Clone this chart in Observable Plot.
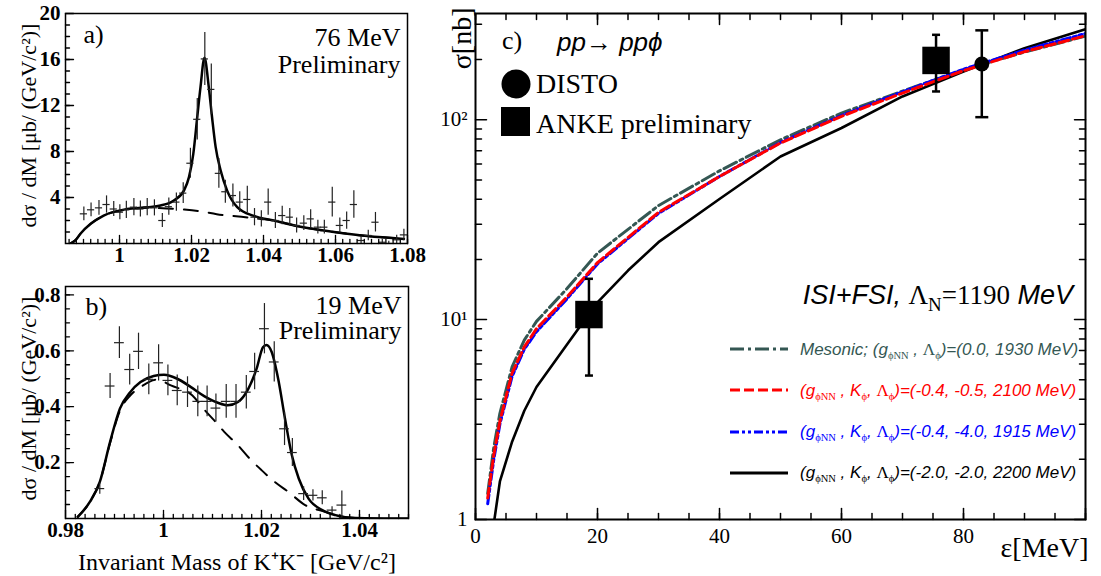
<!DOCTYPE html>
<html><head><meta charset="utf-8">
<script src="https://cdn.jsdelivr.net/npm/d3@7"></script>
<script src="https://cdn.jsdelivr.net/npm/@observablehq/plot@0.6"></script>
<style>
html,body{margin:0;padding:0;background:#fff;}
#root{position:relative;width:1101px;height:576px;overflow:hidden;background:#fff;}
#root > svg{position:absolute;overflow:visible;}
.t{position:absolute;white-space:nowrap;line-height:1;color:#000;}
.serif{font-family:"Liberation Serif",serif;font-style:normal;}
.isans{font-family:"Liberation Sans",sans-serif;font-style:italic;}
.up{font-family:"Liberation Serif",serif;font-style:normal;}
sub{font-family:"Liberation Serif",serif;font-style:normal;font-size:62%;vertical-align:-0.35em;line-height:0;}
</style></head><body><div id="root"></div>
<script>
// ===================== DATA =====================
// Panel a) 76 MeV : K+K- invariant mass spectrum
const aMass = [0.9901,0.9921,0.9943,0.9964,0.9984,1.0001,1.0019,1.004,1.0058,1.0077,1.0097,1.0119,1.0137,1.0158,1.0177,1.0197,1.0216,1.0237,1.0255,1.0276,1.0294,1.0315,1.0334,1.0355,1.0375,1.0394,1.0413,1.0433,1.0452,1.0473,1.0492,1.0512,1.0531,1.0551,1.0569,1.0591,1.0612,1.0631,1.0651,1.0671,1.0691,1.0711,1.073,1.0748,1.077,1.079];
const aVal  = [2.58,2.93,3.1,3.39,3.0,2.72,2.93,3.16,3.0,3.16,3.1,2.0,3.2,3.6,4.38,6.98,10.8,16.05,13.4,6.1,4.5,4.17,3.6,3.83,2.29,2.14,3.6,2.0,2.43,2.29,1.57,1.77,2.14,1.42,1.42,3.6,1.57,2.0,3.39,0.26,0.70,1.85,0.11,0.0,0.32,0.75];
const aErr  = [0.6,0.6,0.65,0.75,0.65,0.65,0.75,0.75,0.7,0.75,0.7,0.6,0.75,0.8,0.9,1.3,1.8,2.3,2.2,1.3,1.0,1.0,0.9,1.15,0.75,0.7,1.15,0.7,0.8,0.75,0.65,0.65,0.8,0.6,0.6,1.3,0.65,0.75,1.2,0.35,0.45,0.85,0.25,0.2,0.4,0.5];
const aFitMass = [0.9864,0.9878,0.9892,0.992,0.9956,1.0021,1.0077,1.0114,1.0151,1.0179,1.0193,1.0205,1.0216,1.0225,1.0236,1.0248,1.0257,1.0267,1.0281,1.0299,1.0327,1.0373,1.0429,1.0503,1.0596,1.0688,1.079];
const aFitVal  = [0,0.3,0.87,1.71,2.43,3.0,3.15,3.3,3.74,4.6,5.77,7.8,11.0,13.6,16.15,13.6,11.0,8.4,6.35,4.6,3.16,2.4,2.0,1.45,1.0,0.65,0.4];
const aBgMass = [0.9864,0.9878,0.9892,0.992,0.9956,1.0021,1.0077,1.013,1.018,1.0225,1.027,1.0331,1.0392,1.0429,1.0503,1.0596,1.0688,1.079];
const aBgVal  = [0,0.3,0.87,1.71,2.43,2.95,3.1,3.05,2.95,2.8,2.55,2.35,2.14,2.0,1.45,1.0,0.65,0.4];

// Panel b) 19 MeV
const bMass = [0.987,0.9891,0.991,0.9931,0.9949,0.997,0.999,1.0009,1.0028,1.0049,1.007,1.0089,1.0107,1.0128,1.0148,1.0169,1.0186,1.0206,1.0226,1.0247,1.0263,1.0286,1.0305,1.0324,1.0344,1.0364];
const bVal  = [0.107,0.474,0.629,0.533,0.598,0.498,0.557,0.494,0.458,0.452,0.419,0.419,0.395,0.419,0.419,0.452,0.526,0.679,0.56,0.321,0.236,0.089,0.083,0.074,0.03,0.048];
const bErr  = [0.02,0.045,0.057,0.055,0.065,0.055,0.065,0.055,0.055,0.055,0.055,0.055,0.05,0.06,0.06,0.06,0.065,0.09,0.072,0.06,0.05,0.025,0.02,0.025,0.012,0.05];
const bFitMass = [0.9825,0.985,0.987,0.9891,0.9911,0.9932,0.9953,0.998,1.0001,1.0028,1.0056,1.0083,1.0111,1.0131,1.0152,1.0173,1.019,1.0203,1.021,1.0221,1.0234,1.0248,1.0262,1.0276,1.0296,1.0324,1.0351,1.0392,1.05];
const bFitVal  = [0.006,0.06,0.131,0.274,0.393,0.452,0.488,0.51,0.514,0.5,0.47,0.438,0.414,0.405,0.417,0.464,0.536,0.613,0.621,0.595,0.5,0.357,0.226,0.143,0.071,0.03,0.012,0.002,0];
const bBgMass = [0.9825,0.985,0.987,0.9891,0.9911,0.9932,0.9953,0.9987,1.0015,1.0059,1.0083,1.0104,1.0124,1.0152,1.0176,1.02,1.0227,1.0255,1.0289,1.033,1.036,1.04];
const bBgVal  = [0.006,0.06,0.131,0.27,0.385,0.44,0.47,0.497,0.476,0.44,0.39,0.35,0.31,0.262,0.214,0.173,0.131,0.095,0.048,0.024,0.008,0.001];

// Panel c) pp -> pp phi total cross section
const cEps      = [2,3,4,6,8,10,15,20,30,40,50,60,70,80,90,100];
const cMesonic  = [1.35,2.3,3.4,5.8,7.9,9.8,14.3,21.5,37.2,55.5,79.4,108,139,178,218,262];
const cRed      = [1.28,2.1,3.1,5.4,7.3,9.0,13.0,19.3,34.4,52,76.5,104,136,176,219,263];
const cBlue     = [1.2,2.0,3.0,5.2,7.1,8.7,12.7,19.0,34.0,52,77,105,138,179,223,270];
const cBlackEps = [3.1,4,6,8,10,15,20,25,30,40,50,60,70,80,90,100];
const cBlack    = [1.0,1.55,2.45,3.5,4.6,7.5,12.2,17.6,24.4,40.1,65.5,90.9,130.8,174,228,284];
const distoEps = [83];   const distoVal = [190];  const distoLo = [103];  const distoHi = [280];
const ankeEps  = [18.6, 75.5]; const ankeVal = [10.6, 198]; const ankeLo = [5.25, 138.5]; const ankeHi = [16.0, 266];

const seriesKeys   = ["mesonic","red","blue","black"];
const seriesColors = ["#345753","#ff0000","#0000ff","#000000"];
const seriesDash   = ["14,4,3,4","10,4","9,3,3,3,3,3","none"];
const seriesLabels = [
  'Mesonic; (g<sub>ϕNN</sub> , <span class="up">Λ</span><sub>ϕ</sub>)=(0.0, 1930 MeV)',
  '(g<sub>ϕNN</sub> , K<sub>ϕ</sub>, <span class="up">Λ</span><sub>ϕ</sub>)=(-0.4, -0.5, 2100 MeV)',
  '(g<sub>ϕNN</sub> , K<sub>ϕ</sub>, <span class="up">Λ</span><sub>ϕ</sub>)=(-0.4, -4.0, 1915 MeV)',
  '(g<sub>ϕNN</sub> , K<sub>ϕ</sub>, <span class="up">Λ</span><sub>ϕ</sub>)=(-2.0, -2.0, 2200 MeV)'
];

// tick values
const aMajorX = [1, 1.02, 1.04, 1.06, 1.08];
const aMajorY = [4, 8, 12, 16, 20];
const bMajorX = [0.98, 1, 1.02, 1.04];
const bMajorY = [0.2, 0.4, 0.6, 0.8];
const cMajorX = [0, 20, 40, 60, 80, 100];
const cLabelX = [0, 20, 40, 60, 80];
const cMajorY = [1, 10, 100];
const cMinorY = [2,3,4,5,6,7,8,9,20,30,40,50,60,70,80,90,200,300];

// ===================== BUILD =====================
const root = document.getElementById("root");
const fmt = d3.format("~g");
const SERIF = '"Liberation Serif", serif';
const baseStyle = {fontFamily: SERIF, fontSize: "21px", background: "transparent", color: "black", overflow: "visible"};
const hline = {draw(ctx, size) { const w = Math.sqrt(size / Math.PI); ctx.moveTo(-w, 0); ctx.lineTo(w, 0); }};
const tickShape = {draw(ctx, l) { ctx.moveTo(0, 0); ctx.lineTo(0, -l); }};

function rows(xs, ys, es) { return xs.map((x, i) => ({x, y: ys[i], e: es ? es[i] : 0})); }
function place(node, left, top) { node.style.left = left + "px"; node.style.top = top + "px"; root.appendChild(node); }

// inward tick marks along the frame edges (ROOT style)
function ticksX(ticks, L, anchor, sw) {
  return Plot.vector(ticks, {x: d => d, frameAnchor: anchor, length: L, rotate: anchor === "top" ? 180 : 0,
    anchor: "start", shape: tickShape, stroke: "black", strokeWidth: sw});
}
function ticksY(ticks, L, anchor, sw) {
  return Plot.vector(ticks, {y: d => d, frameAnchor: anchor, length: L, rotate: anchor === "right" ? -90 : 90,
    anchor: "start", shape: tickShape, stroke: "black", strokeWidth: sw});
}

function massAxes(majorX, minorX, majorY, minorY) {
  return [
    ticksX(minorX, 4, "bottom", 1.3),
    ticksX(majorX, 8, "bottom", 1.3),
    ticksY(minorY, 4, "left", 1.3),
    ticksY(majorY, 8, "left", 1.3),
    Plot.axisX({ticks: majorX, tickSize: 0, tickPadding: 4, tickFormat: fmt, fontWeight: "bold", fontSize: 21, label: null}),
    Plot.axisY({ticks: majorY, tickSize: 0, tickPadding: 5, tickFormat: fmt, fontWeight: "bold", fontSize: 21, label: null})
  ];
}
function massMarks(pts, fit, bg, halfBin) {
  return [
    Plot.line(bg, {x: "x", y: "y", strokeWidth: 2, strokeDasharray: "14,11", curve: "monotone-x", clip: true}),
    Plot.line(fit, {x: "x", y: "y", strokeWidth: 2.5, curve: "monotone-x", clip: true}),
    Plot.ruleX(pts, {x: "x", y1: d => d.y - d.e, y2: d => d.y + d.e, stroke: "#222", strokeWidth: 1.2, clip: true}),
    Plot.ruleY(pts, {y: "y", x1: d => d.x - halfBin, x2: d => d.x + halfBin, stroke: "#222", strokeWidth: 1.2, clip: true})
  ];
}
const yTitle = "dσ / dM [μb/ (GeV/c²)]";

// ---- Panel a ----
const plotA = Plot.plot({
  width: 420, height: 268, marginLeft: 65, marginRight: 13, marginTop: 13, marginBottom: 25,
  style: baseStyle,
  x: {domain: [0.985, 1.08]},
  y: {domain: [0, 20]},
  marks: [
    ...massMarks(rows(aMass, aVal, aErr), rows(aFitMass, aFitVal), rows(aBgMass, aBgVal), 0.001),
    ...massAxes(aMajorX, d3.range(493, 541).map(i => i * 0.002), aMajorY, d3.range(1, 20)),
    Plot.frame({strokeWidth: 1.5}),
    Plot.text(["a)"], {frameAnchor: "top-left", textAnchor: "start", lineAnchor: "top", dx: 18, dy: 11, fontSize: 26}),
    Plot.text(["76 MeV"], {frameAnchor: "top-right", textAnchor: "end", lineAnchor: "top", dx: -7, dy: 14, fontSize: 26}),
    Plot.text(["Preliminary"], {frameAnchor: "top-right", textAnchor: "end", lineAnchor: "top", dx: -7, dy: 41, fontSize: 26}),
    Plot.text([yTitle], {frameAnchor: "left", rotate: -90, textAnchor: "middle", dx: -37, dy: -3, fontSize: 22})
  ]
});
plotA.style.left = "0px"; plotA.style.top = "0px"; root.appendChild(plotA);

// ---- Panel b ----
const plotB = Plot.plot({
  width: 420, height: 308, marginLeft: 65, marginRight: 12, marginTop: 18, marginBottom: 58,
  style: baseStyle,
  x: {domain: [0.98, 1.05]},
  y: {domain: [0, 0.83]},
  marks: [
    ...massMarks(rows(bMass, bVal, bErr), rows(bFitMass, bFitVal), rows(bBgMass, bBgVal), 0.001),
    ...massAxes(bMajorX, d3.range(491, 526).map(i => i * 0.002), bMajorY, d3.range(1, 17).map(i => i * 0.05)),
    Plot.frame({strokeWidth: 1.5}),
    Plot.text(["b)"], {frameAnchor: "top-left", textAnchor: "start", lineAnchor: "top", dx: 20, dy: 10, fontSize: 26}),
    Plot.text(["19 MeV"], {frameAnchor: "top-right", textAnchor: "end", lineAnchor: "top", dx: -7, dy: 9, fontSize: 26}),
    Plot.text(["Preliminary"], {frameAnchor: "top-right", textAnchor: "end", lineAnchor: "top", dx: -7, dy: 34, fontSize: 26}),
    Plot.text([yTitle], {frameAnchor: "left", rotate: -90, textAnchor: "middle", dx: -37, dy: -4, fontSize: 22}),
    Plot.text(["Invariant Mass of K⁺K⁻ [GeV/c²]"], {frameAnchor: "bottom", lineAnchor: "top", dy: 34, fontSize: 24})
  ]
});
plotB.style.left = "0px"; plotB.style.top = "268px"; root.appendChild(plotB);

// ---- Panel c ----
const curveRows = [];
seriesKeys.forEach((k, s) => {
  const xs = k === "black" ? cBlackEps : cEps;
  const ys = {mesonic: cMesonic, red: cRed, blue: cBlue, black: cBlack}[k];
  xs.forEach((x, i) => curveRows.push({s: k, x, y: ys[i]}));
});
const disto = distoEps.map((x, i) => ({x, y: distoVal[i], lo: distoLo[i], hi: distoHi[i]}));
const anke = ankeEps.map((x, i) => ({x, y: ankeVal[i], lo: ankeLo[i], hi: ankeHi[i]}));
const supFmt = d => d === 1 ? "1" : d === 10 ? "10¹" : "10²";

const curveMarks = seriesKeys.map((k, s) =>
  Plot.line(curveRows.filter(d => d.s === k), {x: "x", y: "y", stroke: seriesColors[s],
    strokeWidth: k === "black" ? 2.6 : 3, strokeDasharray: seriesDash[s] === "none" ? null : seriesDash[s], clip: true}));
const orderedCurves = [curveMarks[3], curveMarks[0], curveMarks[2], curveMarks[1]];
const cMinorX = d3.range(0, 101, 5);

const plotC = Plot.plot({
  width: 681, height: 576, marginLeft: 55, marginRight: 16, marginTop: 13, marginBottom: 57,
  style: baseStyle,
  x: {domain: [0, 100]},
  y: {type: "log", domain: [1, 340]},
  marks: [
    ...orderedCurves,
    Plot.ruleX(anke, {x: "x", y1: "lo", y2: "hi", strokeWidth: 2.5}),
    Plot.dot(anke, {x: "x", y: "lo", symbol: hline, r: 4, stroke: "black", strokeWidth: 2.5}),
    Plot.dot(anke, {x: "x", y: "hi", symbol: hline, r: 4, stroke: "black", strokeWidth: 2.5}),
    Plot.dot(anke, {x: "x", y: "y", symbol: "square", r: 15.5, fill: "black", stroke: null}),
    Plot.ruleX(disto, {x: "x", y1: "lo", y2: "hi", strokeWidth: 2.5}),
    Plot.dot(disto, {x: "x", y: "lo", symbol: hline, r: 6.5, stroke: "black", strokeWidth: 2.5}),
    Plot.dot(disto, {x: "x", y: "hi", symbol: hline, r: 6.5, stroke: "black", strokeWidth: 2.5}),
    Plot.dot(disto, {x: "x", y: "y", r: 7.5, fill: "black", stroke: null}),
    ticksX(cMinorX, 6, "bottom", 1.5),
    ticksX(cMajorX, 11, "bottom", 1.5),
    ticksX(cMinorX, 6, "top", 1.5),
    ticksX(cMajorX, 11, "top", 1.5),
    ticksY(cMinorY, 6, "left", 1.5),
    ticksY(cMajorY, 11, "left", 1.5),
    ticksY(cMinorY, 6, "right", 1.5),
    ticksY(cMajorY, 11, "right", 1.5),
    Plot.axisX({ticks: cLabelX, tickSize: 0, tickPadding: 9, fontSize: 21, label: null}),
    Plot.axisY({ticks: cMajorY, tickSize: 0, tickPadding: 8, tickFormat: supFmt, fontSize: 21, label: null}),
    Plot.frame({strokeWidth: 2}),
    Plot.text(["σ[nb]"], {frameAnchor: "top-left", rotate: -90, textAnchor: "end", dx: -24, dy: -6, fontSize: 28}),
    Plot.text(["ε[MeV]"], {frameAnchor: "bottom-right", textAnchor: "end", lineAnchor: "top", dx: 3, dy: 18, fontSize: 28})
  ]
});
plotC.style.left = "420px"; plotC.style.top = "0px"; root.appendChild(plotC);

// ---- Panel c annotations & legends (HTML) ----
function html(str, cls, left, top, size, extra) {
  const d = document.createElement("div");
  d.className = "t " + cls;
  d.innerHTML = str;
  d.style.fontSize = size + "px";
  place(d, left, top);
  if (extra) Object.assign(d.style, extra);
  return d;
}
html("c)", "serif", 502, 28, 26);
html("pp→ ppϕ", "isans", 557, 29, 26);

function markerRow(shape, label, cx, cy, textTop) {
  const ns = "http://www.w3.org/2000/svg";
  const s = document.createElementNS(ns, "svg");
  s.setAttribute("width", 32); s.setAttribute("height", 32);
  s.style.position = "absolute"; s.style.left = (cx - 16) + "px"; s.style.top = (cy - 16) + "px";
  const m = shape === "circle" ? document.createElementNS(ns, "circle") : document.createElementNS(ns, "rect");
  if (shape === "circle") { m.setAttribute("cx", 16); m.setAttribute("cy", 16); m.setAttribute("r", 14.5); }
  else { m.setAttribute("x", 1); m.setAttribute("y", 1); m.setAttribute("width", 29); m.setAttribute("height", 29); }
  m.setAttribute("fill", "black");
  s.appendChild(m); root.appendChild(s);
  html(label, "serif", cx + 20, textTop, 28);
}
markerRow("circle", "DISTO", 516, 84, 70);
markerRow("square", "ANKE preliminary", 516, 122, 110);

html('ISI+FSI, <span class="up">Λ<sub style="font-size:70%">N</sub>=1190</span> MeV', "isans", 0, 282, 27,
  {left: "auto", right: "28px"});

seriesKeys.forEach((k, i) => {
  const row = document.createElement("div");
  row.className = "t";
  Object.assign(row.style, {display: "flex", alignItems: "center", height: "40px"});
  const dash = seriesDash[i] === "none" ? "" : `stroke-dasharray="${seriesDash[i]}"`;
  row.innerHTML = `<svg width="58" height="8" style="flex:none"><line x1="0" x2="58" y1="4" y2="4" stroke="${seriesColors[i]}" stroke-width="3" ${dash}/></svg>` +
    `<span class="isans" style="margin-left:12px;font-size:17px;color:${seriesColors[i]}">${seriesLabels[i]}</span>`;
  place(row, 730, 329 + i * 41.3);
});
</script>
</body></html>
